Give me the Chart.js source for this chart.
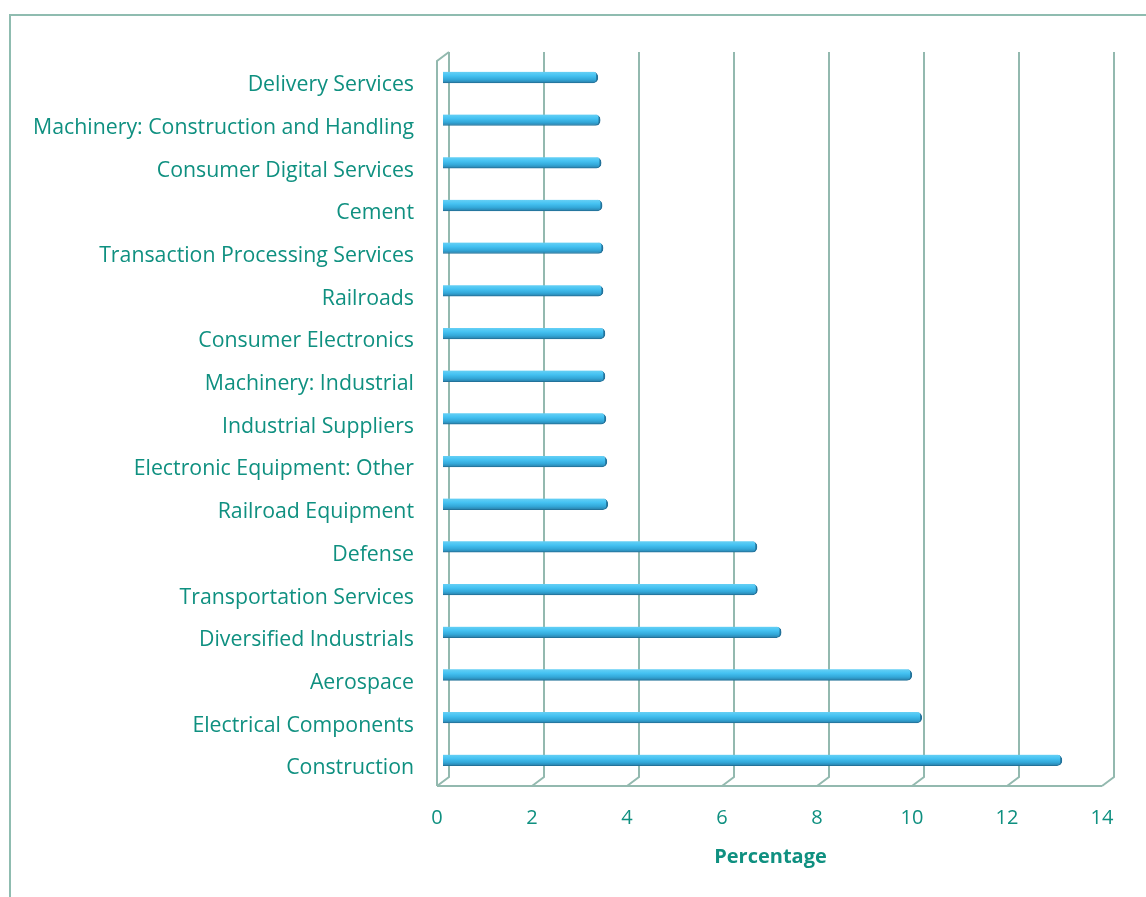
<!DOCTYPE html>
<html>
<head>
<meta charset="utf-8">
<script src="https://cdn.jsdelivr.net/npm/chart.js@4"></script>
<style>
  html, body { margin: 0; padding: 0; background: #fff; }
  #wrap { width: 1146px; height: 897px; }
</style>
</head>
<body>
<div id="wrap"><canvas id="sectorChart"></canvas></div>
<script>
// Sectores (de arriba a abajo) y porcentajes
const sectores = [
  'Delivery Services',
  'Machinery: Construction and Handling',
  'Consumer Digital Services',
  'Cement',
  'Transaction Processing Services',
  'Railroads',
  'Consumer Electronics',
  'Machinery: Industrial',
  'Industrial Suppliers',
  'Electronic Equipment: Other',
  'Railroad Equipment',
  'Defense',
  'Transportation Services',
  'Diversified Industrials',
  'Aerospace',
  'Electrical Components',
  'Construction'
];
const porcentajes = [3.26, 3.31, 3.33, 3.35, 3.37, 3.37, 3.41, 3.41, 3.43, 3.45, 3.47, 6.61, 6.62, 7.12, 9.87, 10.08, 13.03];
const ticksX = [0, 2, 4, 6, 8, 10, 12, 14];

const verde = '#0f9080';
const rejilla = '#93b9af';
const prof = 6;     // desplazamiento horizontal del efecto 3D
const profY = 4.5;  // desplazamiento vertical

// paredes 3D + marco exterior
const paredes = {
  id: 'paredes',
  beforeDatasetsDraw(chart) {
    const { ctx, chartArea, scales: { x } } = chart;
    const top = chartArea.top, bot = chartArea.bottom;
    ctx.save();
    ctx.strokeStyle = '#8fbcb0';
    ctx.lineWidth = 2;
    ctx.strokeRect(10, 15, 1300, 1000);
    ctx.strokeStyle = rejilla;
    ctx.lineWidth = 2;
    ticksX.forEach(v => {
      const xb = x.getPixelForValue(v) + prof;
      const xf = x.getPixelForValue(v) - prof;
      ctx.beginPath();
      ctx.moveTo(xb, top - 4);
      ctx.lineTo(xb, bot - profY);
      ctx.lineTo(xf, bot + profY);
      ctx.stroke();
    });
    const x0 = x.getPixelForValue(0);
    ctx.beginPath();
    ctx.moveTo(x0 - prof, bot + profY);
    ctx.lineTo(x.getPixelForValue(14) - prof, bot + profY);
    ctx.stroke();
    ctx.beginPath();
    ctx.moveTo(x0 - prof, bot + profY);
    ctx.lineTo(x0 - prof, top + 5);
    ctx.lineTo(x0 + prof, top - 4);
    ctx.stroke();
    ctx.restore();
  }
};

const ctxSec = document.getElementById('sectorChart').getContext('2d');
new Chart(ctxSec, {
  type: 'bar',
  data: {
    labels: sectores,
    datasets: [{
      label: 'Percentage',
      data: porcentajes,
      barThickness: 11,
      borderSkipped: 'left',
      borderRadius: 5,
      borderWidth: { right: 2, top: 0, bottom: 1, left: 0 },
      borderColor: '#23729a',
      backgroundColor: (c) => {
        const area = c.chart.chartArea;
        if (!area || c.dataIndex === undefined) return '#3db6e6';
        const yc = c.chart.scales.y.getPixelForValue(c.dataIndex);
        const g = c.chart.ctx.createLinearGradient(0, yc - 5.5, 0, yc + 5.5);
        g.addColorStop(0, '#66d0f5');
        g.addColorStop(0.35, '#45c2f2');
        g.addColorStop(0.7, '#33a8d9');
        g.addColorStop(1, '#2a80aa');
        return g;
      }
    }]
  },
  options: {
    indexAxis: 'y',
    responsive: true,
    maintainAspectRatio: false,
    animation: false,
    layout: { padding: { top: 56, right: 38, bottom: 10, left: 0 } },
    plugins: { legend: { display: false }, tooltip: { enabled: false } },
    scales: {
      x: {
        min: 0, max: 14,
        afterFit: s => { s.height = 105.5; },
        afterBuildTicks: s => { s.ticks = ticksX.map(v => ({ value: v })); },
        grid: { display: false, drawTicks: false },
        border: { display: false },
        ticks: { color: verde, padding: 25, labelOffset: -prof, font: { family: 'Open Sans', size: 20 } },
        title: { display: true, text: 'Percentage\u2002', color: verde, padding: { top: 0, bottom: 18 }, font: { family: 'Open Sans', size: 20, weight: 'bold' } }
      },
      y: {
        afterFit: s => { s.width = 443; },
        grid: { display: false, drawTicks: false },
        border: { display: false },
        ticks: { color: verde, padding: 29, labelOffset: 8, font: { family: 'Open Sans', size: 21.3 } }
      }
    }
  },
  plugins: [paredes]
});
</script>
</body>
</html>
